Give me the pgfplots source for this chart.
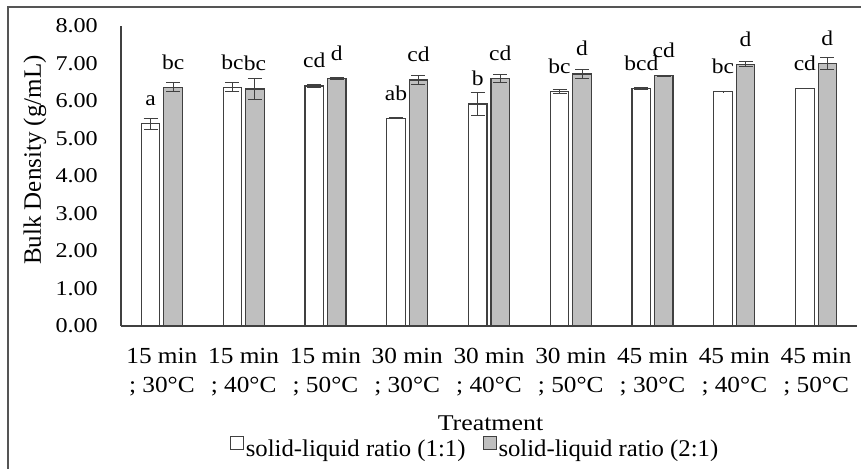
\documentclass[border=0pt]{standalone}
\usepackage{pgfplots}
\pgfplotsset{compat=1.18}
\usepackage{pgfplotstable}
\usepackage{fontspec}
\setmainfont{Liberation Serif}
\newfontfamily\tickfam[FakeStretch=1.15]{Liberation Serif}
\newfontfamily\catfam[FakeStretch=1.1]{Liberation Serif}
\newfontfamily\labfam[FakeStretch=1.12]{Liberation Serif}
\newfontfamily\titfam[FakeStretch=1.15]{Liberation Serif}
\newfontfamily\legfam[FakeStretch=1.03]{Liberation Serif}
\newfontfamily\ylabfam{Liberation Serif}
\definecolor{barline}{HTML}{404040}
\definecolor{barfill}{HTML}{BFBFBF}
\definecolor{framec}{HTML}{555555}

\pgfplotstableread{
x y e lab
0 5.39 0.15 a
1 6.36 0.12 bc
2 6.40 0.03 cd
3 5.54 0.01 ab
4 5.92 0.30 b
5 6.25 0.05 bc
6 6.33 0.02 bcd
7 6.25 0.01 bc
8 6.33 0.00 cd
}\ratioA
\pgfplotstableread{
x y e lab
0 6.36 0.12 bc
1 6.32 0.28 bc
2 6.60 0.03 d
3 6.56 0.12 cd
4 6.60 0.11 cd
5 6.72 0.13 d
6 6.67 0.02 cd
7 6.98 0.07 d
8 7.00 0.15 d
}\ratioB

\begin{document}
\begin{tikzpicture}
\path[use as bounding box] (0bp,0bp) rectangle (861bp,469bp);
\draw[framec, line width=2bp] (8bp,-5bp) -- (8bp,462bp) -- (870bp,462bp);
\begin{axis}[
  at={(121bp,143bp)}, anchor=south west,
  scale only axis, width=736bp, height=300bp,
  xmin=-0.5, xmax=8.5, ymin=0, ymax=8,
  enlargelimits=false,
  axis x line*=bottom, axis y line*=left,
  axis line style={-, draw=barline, line width=1.3bp},
  major tick length=0pt,
  ytick={0,1,...,8},
  /pgf/number format/assume math mode=true,
  yticklabel={\pgfmathprintnumber[fixed,fixed zerofill,precision=2]{\tick}},
  yticklabel style={font=\tickfam\fontsize{21bp}{24bp}\selectfont, anchor=east, inner sep=0pt, xshift=-23bp},
  xtick={0,...,8},
  xticklabels={{15 min\\; 30°C},{15 min\\; 40°C},{15 min\\; 50°C},{30 min\\; 30°C},{30 min\\; 40°C},{30 min\\; 50°C},{45 min\\; 30°C},{45 min\\; 40°C},{45 min\\; 50°C}},
  xticklabel style={font=\catfam\fontsize{23bp}{29bp}\selectfont, align=center, anchor=north, inner sep=0pt, yshift=-22bp},
  xlabel={Treatment},
  xlabel style={font=\titfam\fontsize{22.5bp}{24bp}\selectfont, at={(axis description cs:0.502,0)}, anchor=base, yshift=-104bp, inner sep=0pt},
  ylabel={Bulk Density (g/mL)},
  ylabel style={font=\ylabfam\fontsize{25bp}{28bp}\selectfont, at={(axis description cs:0,0.553)}, anchor=center, yshift=86bp, inner sep=0pt},
  ybar=4bp, bar width=18.5bp,
  nodes near coords,
  point meta=explicit symbolic,
  every node near coord/.append style={font=\labfam\fontsize{21bp}{24bp}\selectfont, anchor=base, yshift=18bp, inner sep=0pt, black},
  legend columns=2,
  legend style={draw=none, fill=none, at={(0.481,-0.407)}, anchor=center,
    font=\legfam\fontsize{24bp}{26bp}\selectfont,
    /tikz/every even column/.append style={column sep=15bp}},
  legend image code/.code={\draw[#1, line width=1bp] (0bp,0bp) rectangle (13bp,13bp);},
  clip=false,
]
\addplot[draw=barline, fill=white, line width=1.2bp,
  error bars/.cd, y dir=both, y explicit,
  error bar style={draw=barline, line width=1bp},
  error mark options={rotate=90, mark size=7bp, draw=barline, line width=1bp}]
  table[x=x, y=y, y error=e, meta=lab] {\ratioA};
\addlegendentry{solid-liquid ratio (1:1)}
\addplot[draw=barline, fill=barfill, line width=1.2bp,
  error bars/.cd, y dir=both, y explicit,
  error bar style={draw=barline, line width=1bp},
  error mark options={rotate=90, mark size=7bp, draw=barline, line width=1bp}]
  table[x=x, y=y, y error=e, meta=lab] {\ratioB};
\addlegendentry{solid-liquid ratio (2:1)}
\end{axis}
\end{tikzpicture}
\end{document}
